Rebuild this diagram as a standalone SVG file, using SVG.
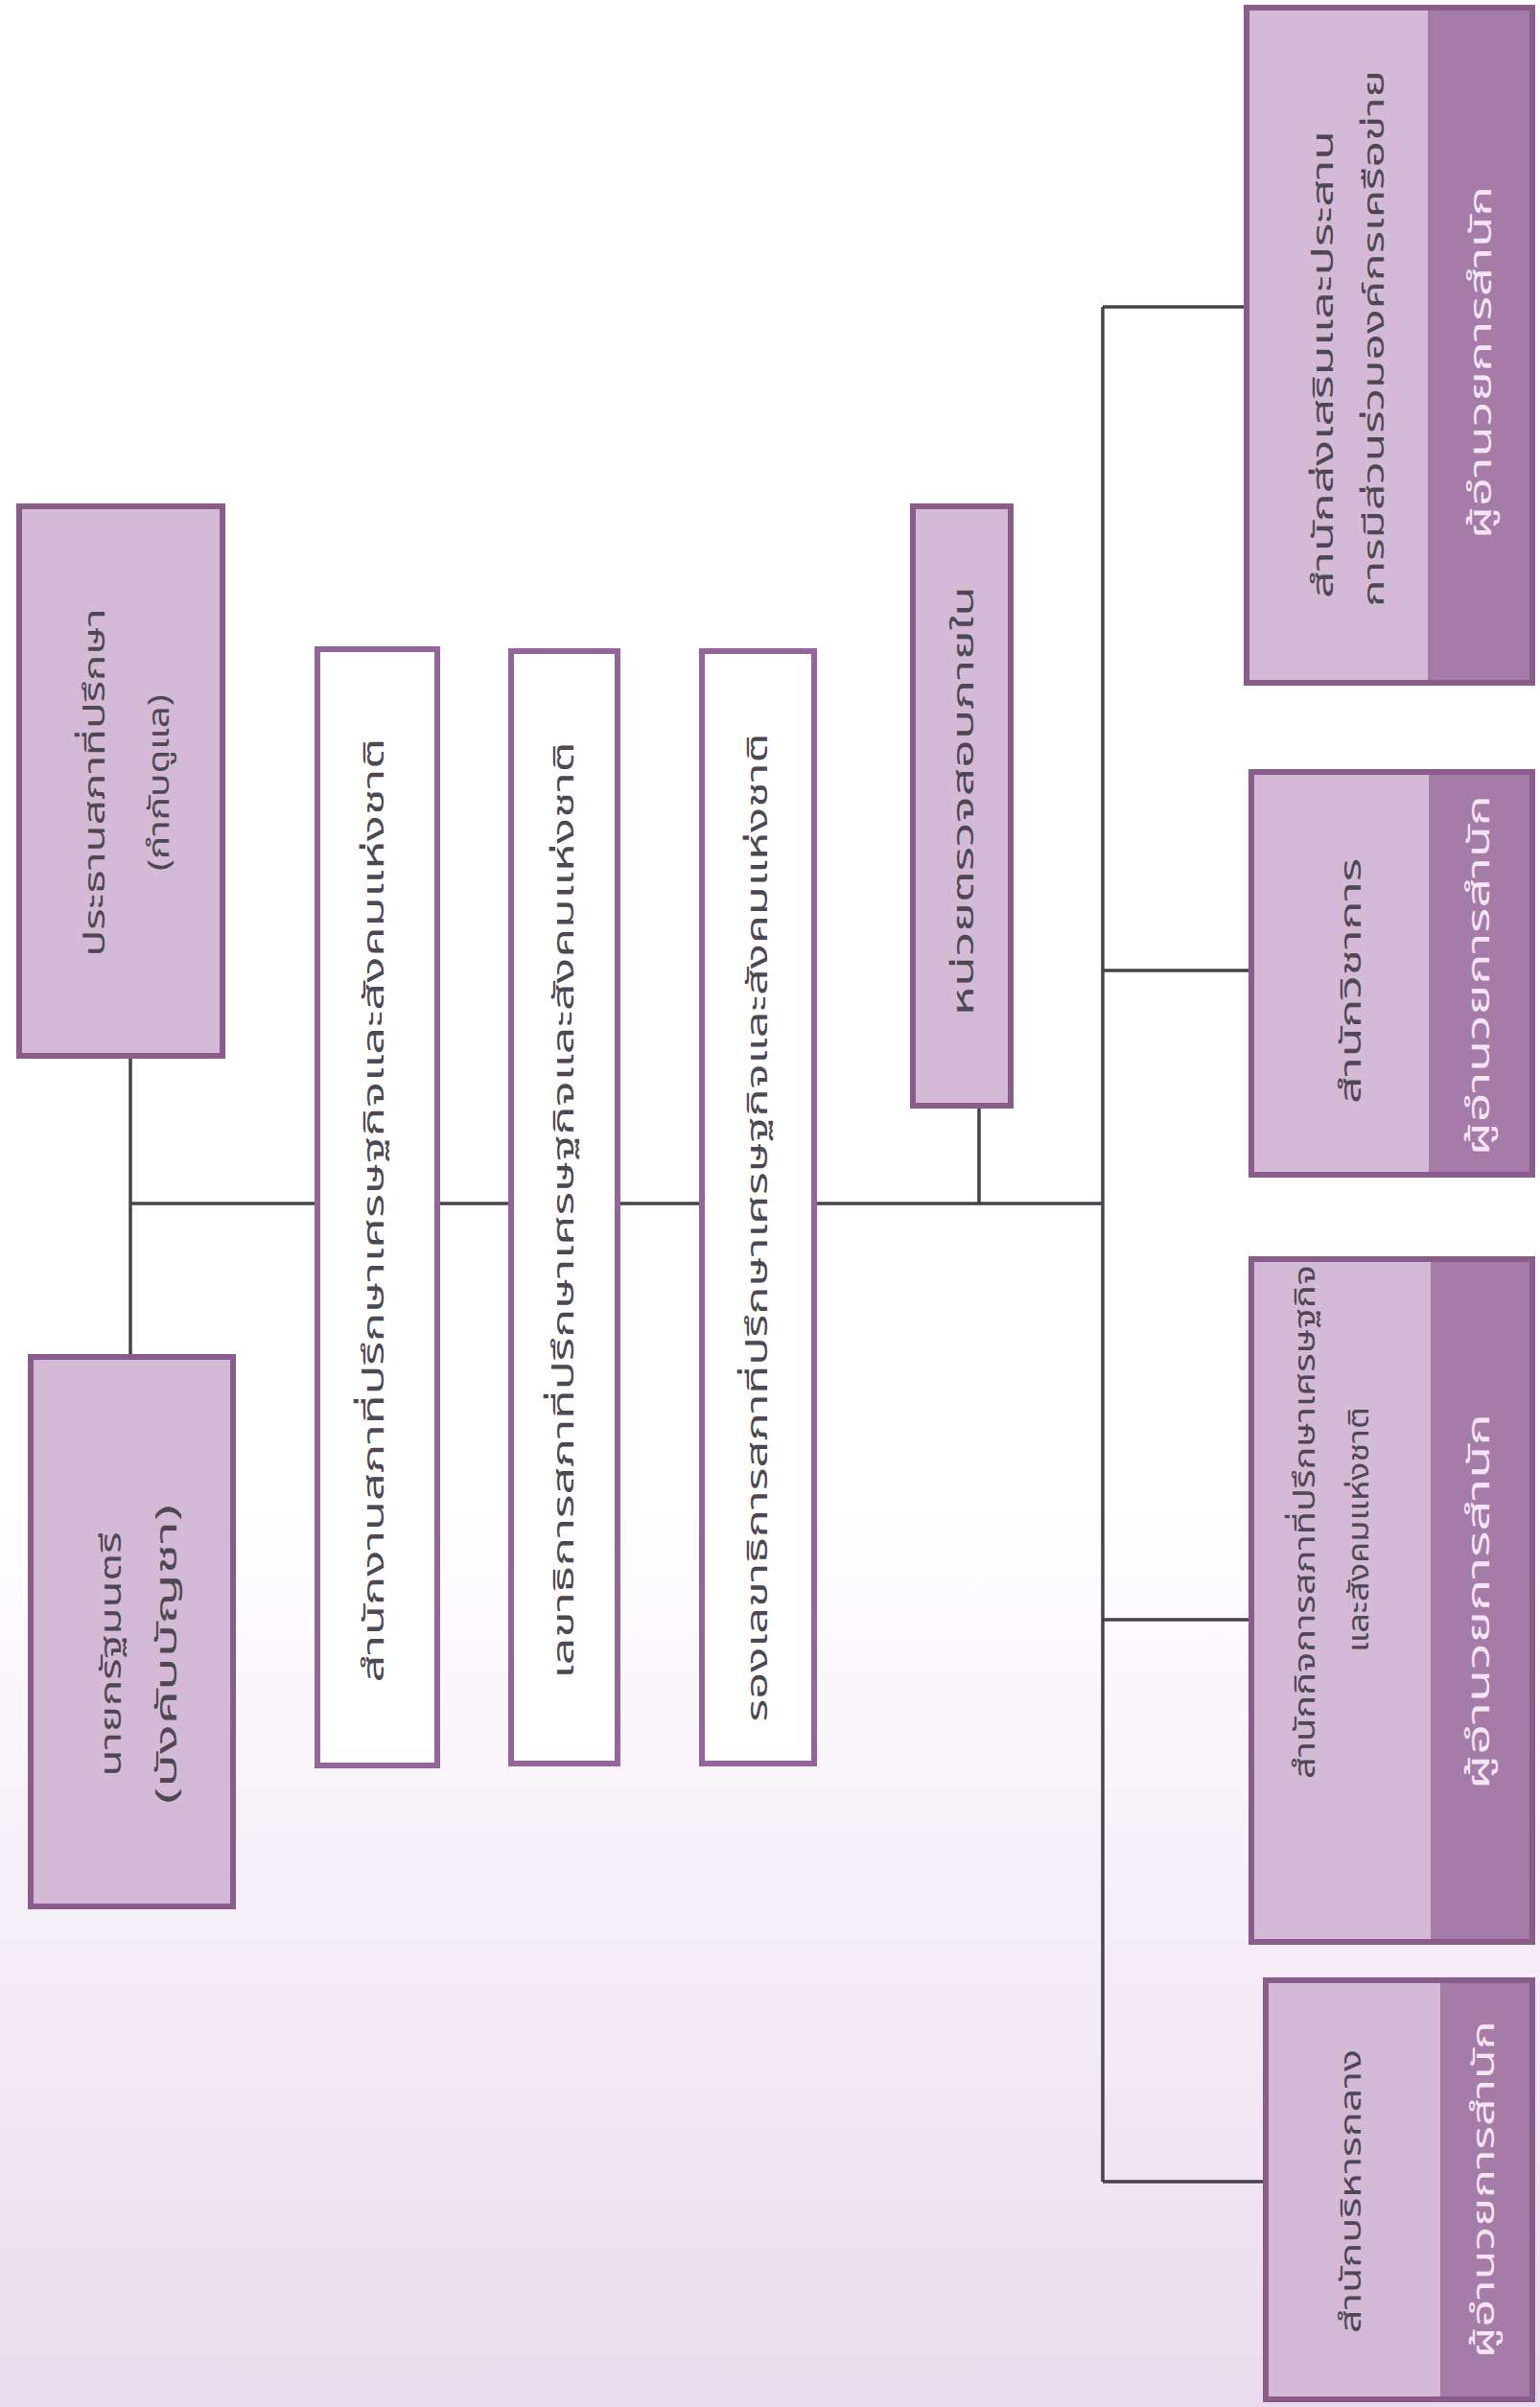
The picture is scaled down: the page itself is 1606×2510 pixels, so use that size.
<svg xmlns="http://www.w3.org/2000/svg" width="1606" height="2510" viewBox="0 0 1606 2510">
<style>
.bg{fill:url(#bgGrad)}
.box{fill:#d5bad7}
.frame{fill:none;stroke:#8a5c8c;stroke-width:6}
.wbox{fill:#ffffff;stroke:#93659a;stroke-width:6}
.band{fill:#a47ca7}
.t{font-family:"Noto Sans Thai","Noto Sans","DejaVu Sans",sans-serif;font-size:31px;fill:#4d4852;text-anchor:middle;dominant-baseline:central}
.tw{fill:#f5e4f5;font-size:32px}
.conn line{stroke:#454248;stroke-width:3.5}
</style>
<defs>
<linearGradient id="bgGrad" x1="0" y1="0" x2="0" y2="1">
<stop offset="0" stop-color="#ffffff"/>
<stop offset="0.62" stop-color="#ffffff"/>
<stop offset="1" stop-color="#e9dcee"/>
</linearGradient>
</defs>
<rect class="bg" x="0" y="0" width="1606" height="2510"/>

<g id="connectors" class="conn">
<line x1="136" y1="1101" x2="136" y2="1415"/>
<line x1="136" y1="1255" x2="1150" y2="1255"/>
<line x1="1021" y1="1153" x2="1021" y2="1255"/>
<line x1="1150" y1="320" x2="1150" y2="2275"/>
<line x1="1150" y1="320" x2="1300" y2="320"/>
<line x1="1150" y1="1012" x2="1305" y2="1012"/>
<line x1="1150" y1="1689" x2="1305" y2="1689"/>
<line x1="1150" y1="2275" x2="1320" y2="2275"/>
</g>

<g id="node-chairman">
<rect class="box" x="20" y="528" width="212" height="573"/>
<rect class="frame" x="20" y="528" width="212" height="573"/>
<text class="t" transform="translate(99,816) rotate(-90)" textLength="363" lengthAdjust="spacingAndGlyphs">ประธานสภาที่ปรึกษา</text>
<text class="t" transform="translate(166,816) rotate(-90)" textLength="184" lengthAdjust="spacingAndGlyphs">(กำกับดูแล)</text>
</g>

<g id="node-pm">
<rect class="box" x="32" y="1415" width="211" height="573"/>
<rect class="frame" x="32" y="1415" width="211" height="573"/>
<text class="t" transform="translate(116,1725) rotate(-90)" textLength="255" lengthAdjust="spacingAndGlyphs">นายกรัฐมนตรี</text>
<text class="t" transform="translate(174,1725) rotate(-90)" textLength="312" lengthAdjust="spacingAndGlyphs">(บังคับบัญชา)</text>
</g>

<g id="node-office">
<rect class="wbox" x="331" y="677" width="125" height="1164"/>
<text class="t" transform="translate(390,1262) rotate(-90)" textLength="985" lengthAdjust="spacingAndGlyphs">สำนักงานสภาที่ปรึกษาเศรษฐกิจและสังคมแห่งชาติ</text>
</g>

<g id="node-secretary">
<rect class="wbox" x="533" y="679" width="111" height="1160"/>
<text class="t" transform="translate(588,1262) rotate(-90)" textLength="977" lengthAdjust="spacingAndGlyphs">เลขาธิการสภาที่ปรึกษาเศรษฐกิจและสังคมแห่งชาติ</text>
</g>

<g id="node-deputy">
<rect class="wbox" x="732" y="679" width="117" height="1160"/>
<text class="t" transform="translate(790,1280) rotate(-90)" textLength="1031" lengthAdjust="spacingAndGlyphs">รองเลขาธิการสภาที่ปรึกษาเศรษฐกิจและสังคมแห่งชาติ</text>
</g>

<g id="node-audit">
<rect class="box" x="952" y="528" width="102" height="625"/>
<rect class="frame" x="952" y="528" width="102" height="625"/>
<text class="t" transform="translate(1005,835) rotate(-90)" textLength="448" lengthAdjust="spacingAndGlyphs">หน่วยตรวจสอบภายใน</text>
</g>

<g id="node-network">
<rect class="box" x="1300" y="8" width="298" height="704"/>
<rect class="band" x="1489" y="8" width="109" height="704"/>
<rect class="frame" x="1300" y="8" width="298" height="704"/>
<text class="t" transform="translate(1380,380) rotate(-90)" textLength="488" lengthAdjust="spacingAndGlyphs">สำนักส่งเสริมและประสาน</text>
<text class="t" transform="translate(1433,353) rotate(-90)" textLength="560" lengthAdjust="spacingAndGlyphs">การมีส่วนร่วมองค์กรเครือข่าย</text>
<text class="t tw" transform="translate(1545,378) rotate(-90)" textLength="368" lengthAdjust="spacingAndGlyphs">ผู้อำนวยการสำนัก</text>
</g>

<g id="node-academic">
<rect class="box" x="1305" y="805" width="293" height="420"/>
<rect class="band" x="1490" y="805" width="108" height="420"/>
<rect class="frame" x="1305" y="805" width="293" height="420"/>
<text class="t" transform="translate(1409,1023) rotate(-90)" textLength="256" lengthAdjust="spacingAndGlyphs">สำนักวิชาการ</text>
<text class="t tw" transform="translate(1543,1017) rotate(-90)" textLength="376" lengthAdjust="spacingAndGlyphs">ผู้อำนวยการสำนัก</text>
</g>

<g id="node-affairs">
<rect class="box" x="1305" y="1313" width="293" height="712"/>
<rect class="band" x="1492" y="1313" width="106" height="712"/>
<rect class="frame" x="1305" y="1313" width="293" height="712"/>
<text class="t" transform="translate(1361,1587) rotate(-90)" textLength="536" lengthAdjust="spacingAndGlyphs">สำนักกิจการสภาที่ปรึกษาเศรษฐกิจ</text>
<text class="t" transform="translate(1417,1595) rotate(-90)" textLength="256" lengthAdjust="spacingAndGlyphs">และสังคมแห่งชาติ</text>
<text class="t tw" transform="translate(1543,1670) rotate(-90)" textLength="392" lengthAdjust="spacingAndGlyphs">ผู้อำนวยการสำนัก</text>
</g>

<g id="node-admin">
<rect class="box" x="1320" y="2065" width="278" height="437"/>
<rect class="band" x="1502" y="2065" width="96" height="437"/>
<rect class="frame" x="1320" y="2065" width="278" height="437"/>
<text class="t" transform="translate(1409,2285) rotate(-90)" textLength="296" lengthAdjust="spacingAndGlyphs">สำนักบริหารกลาง</text>
<text class="t tw" transform="translate(1548,2283) rotate(-90)" textLength="352" lengthAdjust="spacingAndGlyphs">ผู้อำนวยการสำนัก</text>
</g>
</svg>
